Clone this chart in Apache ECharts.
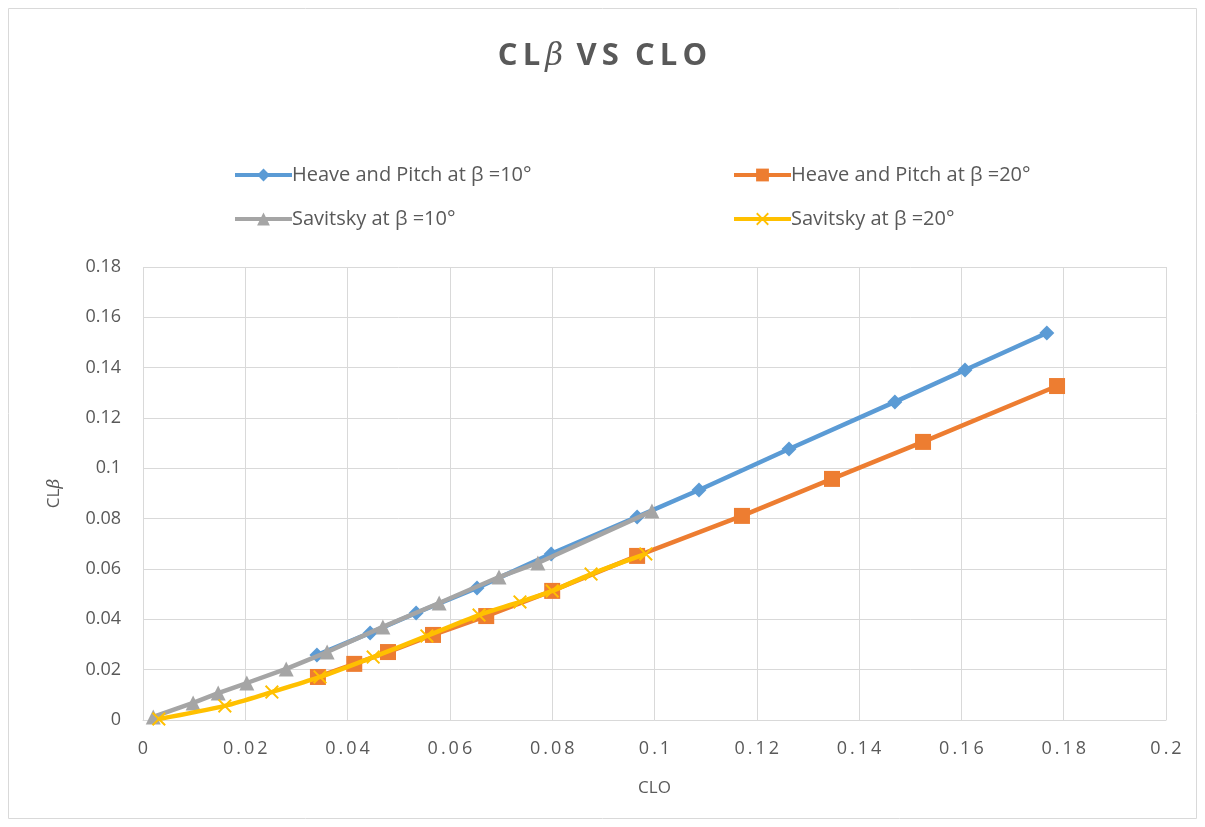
<!DOCTYPE html>
<html><head><meta charset="utf-8">
<script src="https://cdn.jsdelivr.net/npm/echarts@6/dist/echarts.min.js"></script>
<style>html,body{margin:0;padding:0;background:#fff}#c{width:1205px;height:827px}</style>
</head><body><div id="c"></div>
<script>
const hp10X = [0.0340, 0.0444, 0.0534, 0.0653, 0.0798, 0.0966, 0.1087, 0.1263, 0.1470, 0.1607, 0.1767];
const hp10Y = [0.0258, 0.0346, 0.0425, 0.0525, 0.0660, 0.0807, 0.0914, 0.1077, 0.1264, 0.1391, 0.1538];
const hp20X = [0.0342, 0.0413, 0.0479, 0.0567, 0.0671, 0.0800, 0.0966, 0.1171, 0.1347, 0.1525, 0.1787];
const hp20Y = [0.0171, 0.0223, 0.0270, 0.0338, 0.0413, 0.0513, 0.0652, 0.0811, 0.0958, 0.1105, 0.1327];
const sav10X = [0.0020, 0.0098, 0.0147, 0.0203, 0.0280, 0.0360, 0.0469, 0.0579, 0.0696, 0.0772, 0.0995];
const sav10Y = [0.0012, 0.0068, 0.0107, 0.0147, 0.0203, 0.0270, 0.0370, 0.0465, 0.0568, 0.0624, 0.0830];
const sav20X = [0.0031, 0.0160, 0.0252, 0.0346, 0.0450, 0.0555, 0.0657, 0.0737, 0.0800, 0.0876, 0.0983];
const sav20Y = [0.0004, 0.0056, 0.0111, 0.0171, 0.0250, 0.0334, 0.0417, 0.0469, 0.0513, 0.0580, 0.0660];
const seriesNames = ['Heave and Pitch at β =10°', 'Heave and Pitch at β =20°', 'Savitsky at β =10°', 'Savitsky at β =20°'];
const xTicks = ['0','0.02','0.04','0.06','0.08','0.1','0.12','0.14','0.16','0.18','0.2'];
const yTicks = ['0','0.02','0.04','0.06','0.08','0.1','0.12','0.14','0.16','0.18'];

const pair = (xs, ys) => xs.map((x, i) => [x, ys[i]]);
const FONT = '"Open Sans", Lato, sans-serif';
const TXT = '#595959';
const SP = '\u2009';
const NB = '\u00A0';
const spaced = s => s.split('').join(SP);
const crossPath = 'path://M0,1L1,0L5,4L9,0L10,1L6,5L10,9L9,10L5,6L1,10L0,9L4,5Z';

const colors = ['#5B9BD5', '#ED7D31', '#A5A5A5', '#FFC000'];
const symbols = ['diamond', 'rect', 'triangle', crossPath];
const sizes = [15, 16, 15, 14];
const dataSets = [pair(hp10X, hp10Y), pair(hp20X, hp20Y), pair(sav10X, sav10Y), pair(sav20X, sav20Y)];

const chart = echarts.init(document.getElementById('c'));
const legendPos = [[228, 160], [727, 160], [228, 204], [727, 204]];
chart.setOption({
  animation: false,
  color: colors,
  graphic: [{type: 'rect', shape: {x: 8.5, y: 8.5, width: 1188, height: 810}, style: {fill: 'none', stroke: '#d9d9d9', lineWidth: 1}}],
  title: {
    text: '{a|' + spaced('CL') + SP + '}{b|β}{a|' + NB + SP + spaced('VS') + NB + NB + spaced('CLO') + '}',
    left: 'center', top: 36,
    textStyle: {
      rich: {
        a: {fontFamily: FONT, fontSize: 31, fontWeight: 'bold', color: TXT},
        b: {fontFamily: '"DejaVu Serif", serif', fontStyle: 'italic', fontSize: 31, fontWeight: 'normal', color: TXT}
      }
    }
  },
  legend: seriesNames.map((n, i) => ({
    data: [n], left: legendPos[i][0], top: legendPos[i][1],
    itemWidth: 57, itemHeight: 16, itemGap: 10,
    lineStyle: {width: 4},
    textStyle: {fontFamily: FONT, fontSize: 20, color: TXT, padding: [0, 0, 0, -5]}
  })),
  grid: {left: 143, right: 39, top: 267, bottom: 107},
  xAxis: {
    type: 'value', min: 0, max: 0.2, interval: 0.02,
    name: 'CLO', nameLocation: 'middle', nameGap: 60,
    nameTextStyle: {fontFamily: FONT, fontSize: 17, color: TXT},
    axisLine: {show: true, lineStyle: {color: '#d9d9d9'}},
    axisTick: {show: false},
    axisLabel: {fontFamily: FONT, fontSize: 18, color: TXT, margin: 20,
      formatter: v => spaced(xTicks[Math.round(v / 0.02)])},
    splitLine: {show: true, lineStyle: {color: '#d9d9d9', width: 1}}
  },
  yAxis: {
    type: 'value', min: 0, max: 0.18, interval: 0.02,
    name: '{a|CL}{b|β}', nameLocation: 'middle', nameGap: 80, nameRotate: 90,
    nameTextStyle: {rich: {
      a: {fontFamily: FONT, fontSize: 17, color: TXT},
      b: {fontFamily: '"DejaVu Serif", serif', fontStyle: 'italic', fontSize: 17, color: TXT}
    }},
    axisLine: {show: false},
    axisTick: {show: false},
    axisLabel: {fontFamily: FONT, fontSize: 18, color: TXT, margin: 22,
      formatter: v => yTicks[Math.round(v / 0.02)]},
    splitLine: {show: true, lineStyle: {color: '#d9d9d9', width: 1}}
  },
  series: seriesNames.map((n, i) => ({
    name: n, type: 'line', data: dataSets[i],
    symbol: symbols[i], symbolSize: sizes[i], showAllSymbol: true,
    smooth: i === 3 ? 0.3 : false,
    lineStyle: {width: 4.5, color: colors[i]},
    itemStyle: {color: colors[i]},
    emphasis: {disabled: true},
    z: 2 + i
  }))
});
</script></body></html>
